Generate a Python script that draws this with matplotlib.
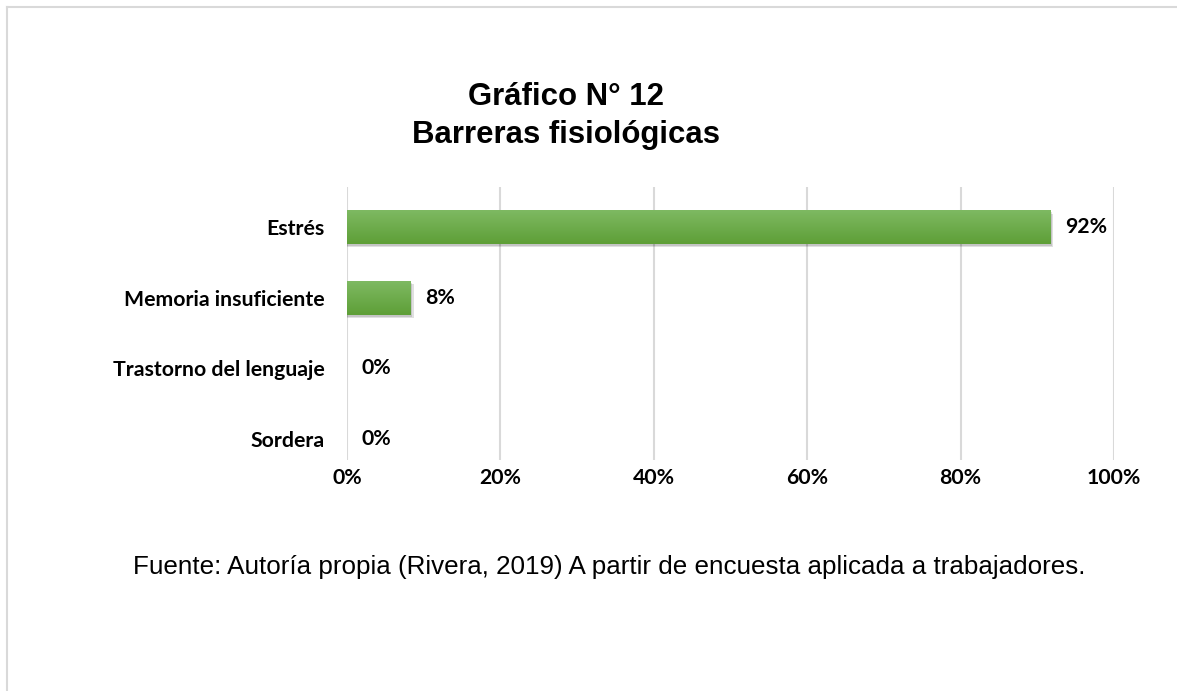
import matplotlib
matplotlib.use("Agg")
import matplotlib.pyplot as plt
import numpy as np
from matplotlib.lines import Line2D
from matplotlib.colors import LinearSegmentedColormap

categories = ["Estrés", "Memoria insuficiente", "Trastorno del lenguaje", "Sordera"]
values = [91.67, 8.33, 0, 0]
xticks = [0, 20, 40, 60, 80, 100]
xtick_labels = ["0%", "20%", "40%", "60%", "80%", "100%"]
title = "Gráfico N° 12\nBarreras fisiológicas"
source = "Fuente: Autoría propia (Rivera, 2019) A partir de encuesta aplicada a trabajadores."

W, H = 1177, 691
fig = plt.figure(figsize=(W / 100, H / 100), dpi=100)
fig.patch.set_facecolor("white")

# frame lines (top and left)
fig.add_artist(Line2D([7 / W, 1], [1 - 7 / H, 1 - 7 / H], transform=fig.transFigure, color="#d9d9d9", lw=1.5))
fig.add_artist(Line2D([7 / W, 7 / W], [0, 1 - 7 / H], transform=fig.transFigure, color="#d9d9d9", lw=1.5))

ax = fig.add_axes([347 / W, 1 - 460 / H, (1114 - 347) / W, (460 - 187) / H])
y = np.arange(len(categories))
bars = ax.barh(y, values, height=0.48, color="#6aab46", zorder=3)

grad = np.linspace(0, 1, 100).reshape(-1, 1)
cmap = LinearSegmentedColormap.from_list("g", ["#7eb962", "#5e9f37"])
for b in bars:
    w = b.get_width()
    if w <= 0:
        continue
    x0, y0, hh = b.get_x(), b.get_y(), b.get_height()
    ax.barh(y0 + hh / 2 + 0.05, w + 0.4, left=x0, height=hh, color="#000000", alpha=0.12, zorder=2)
    ax.barh(y0 + hh / 2 + 0.03, w + 0.2, left=x0, height=hh, color="#000000", alpha=0.12, zorder=2)
    im = ax.imshow(grad, cmap=cmap, aspect="auto", extent=(x0, x0 + w, y0 + hh, y0), zorder=4, interpolation="bilinear")
    im.set_clip_path(b)

ax.set_xlim(0, 100)
ax.set_ylim(3 + 21 / 70.7, -40 / 70.7)
ax.set_xticks(xticks)
ax.set_xticklabels(xtick_labels)
ax.set_yticks(y)
ax.set_yticklabels(categories)
for s in ax.spines.values():
    s.set_visible(False)
ax.grid(axis="x", color="#d9d9d9", lw=1.5, zorder=0)
ax.tick_params(length=0)
ax.tick_params(axis="x", pad=6)
ax.tick_params(axis="y", pad=16)
for lab in ax.get_xticklabels() + ax.get_yticklabels():
    lab.set_fontfamily("Lato")
    lab.set_fontweight("bold")
    lab.set_fontsize(15.3)
    lab.set_color("#000000")

for yi, v in zip(y, values):
    ax.text(v + 1.9, yi, f"{round(v)}%", va="center", ha="left", fontfamily="Lato", fontweight="bold", fontsize=15.3, color="black", zorder=5)

fig.text(566 / W, 1 - 116 / H, title, ha="center", va="center", fontfamily="Liberation Sans", fontweight="bold", fontsize=22.4, linespacing=1.35)
fig.text(609 / W, 1 - 567 / H, source, ha="center", va="center", fontfamily="Liberation Sans", fontsize=18.7)

fig.savefig("out.png", dpi=100, facecolor="white")
